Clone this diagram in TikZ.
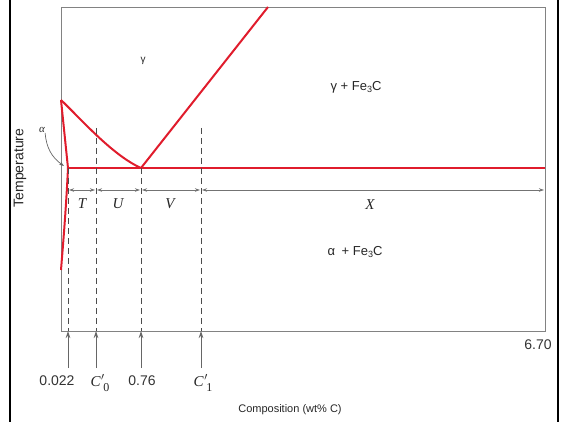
\documentclass[tikz,border=0pt]{standalone}
\usepackage{fontspec}
\setmainfont{Liberation Sans}
\newfontfamily\serifit{Liberation Serif}[ItalicFont={* Italic}]
\usetikzlibrary{arrows.meta}
\definecolor{phred}{RGB}{224,28,44}
\definecolor{frame}{RGB}{130,130,130}
\newcommand{\sub}[1]{\raisebox{-2.5pt}{\fontsize{9}{9}\selectfont #1}}
\newcommand{\cprime}[1]{C\kern0.5pt$'$\kern-1.5pt\raisebox{-5pt}{\fontsize{12}{12}\selectfont\upshape #1}}
\tikzset{
  phase/.style={draw=phred,line width=2pt},
  framebox/.style={draw=frame,line width=0.9pt},
  dashv/.style={draw=black!70,dashed,dash pattern=on 6pt off 4pt,line width=0.8pt},
  dim/.style={draw=black!55,line width=0.7pt,{Stealth[length=5pt,width=3.5pt]}-{Stealth[length=5pt,width=3.5pt]},shorten <=1pt,shorten >=1pt},
  uparrow/.style={draw=black!60,line width=0.8pt,-{Stealth[length=7pt,width=4.5pt]}},
  lab/.style={font=\fontsize{13}{13}\selectfont,text=black!85,inner sep=0pt},
  num/.style={font=\fontsize{14}{14}\selectfont,text=black!80,inner sep=0pt},
  ilab/.style={font=\fontsize{15}{15}\selectfont\serifit\itshape,text=black!85,inner sep=0pt},
}
\begin{document}
\begin{tikzpicture}[x=1pt,y=-1pt]
\useasboundingbox (0,0) rectangle (564,422);
% outer black border lines
\draw[black,line width=2pt] (10,0) -- (10,422);
\draw[black,line width=2pt] (558,0) -- (558,422);
% frame
\draw[framebox] (61,7) rectangle (545,331);
% key points
\coordinate (A) at (61,100);
\coordinate (E) at (141,168);
\coordinate (P) at (68,168);
\coordinate (R) at (545,168);
\coordinate (Top) at (268,7);
\coordinate (S) at (61,270);
% phase boundaries
\draw[phase] (A) .. controls (80,118) and (112,155) .. (E);
\draw[phase] (E) -- (Top);
\draw[phase] (A) -- (P);
\draw[phase] (P) -- (R);
\draw[phase] (P) .. controls (66,210) and (63,245) .. (S);
% dashed verticals
\coordinate (d1t) at (68,168);  \coordinate (d1b) at (68,331);
\coordinate (d2t) at (96,128);  \coordinate (d2b) at (96,331);
\coordinate (d3t) at (141,168); \coordinate (d3b) at (141,331);
\coordinate (d4t) at (201,128); \coordinate (d4b) at (201,331);
\coordinate (xr) at (545,190);
\draw[dashv] (d1t) -- (d1b);
\draw[dashv] (d2t) -- (d2b);
\draw[dashv] (d3t) -- (d3b);
\draw[dashv] (d4t) -- (d4b);
% dimension arrows
\coordinate (m1) at (68,190); \coordinate (m2) at (96,190);
\coordinate (m3) at (141,190); \coordinate (m4) at (201,190);
\draw[dim] (m1) -- (m2);
\draw[dim] (m2) -- (m3);
\draw[dim] (m3) -- (m4);
\draw[dim] (m4) -- (xr);
\node[ilab] (T) at (82,204) {T};
\node[ilab] (U) at (118,204) {U};
\node[ilab] (V) at (170,204) {V};
\node[ilab] (X) at (370,205) {X};
% bottom arrows
\coordinate (b1) at (68,368); \coordinate (b2) at (96,368);
\coordinate (b3) at (141,368); \coordinate (b4) at (201,368);
\draw[uparrow] (b1) -- (d1b);
\draw[uparrow] (b2) -- (d2b);
\draw[uparrow] (b3) -- (d3b);
\draw[uparrow] (b4) -- (d4b);
% bottom labels
\node[num] (l1) at (57,381) {0.022};
\node[ilab] (l2) at (100,383) {\cprime{0}};
\node[num] (l3) at (142,381) {0.76};
\node[ilab] (l4) at (203,383) {\cprime{1}};
\node[num] (l5) at (538,345) {6.70};
\node[lab,font=\fontsize{11}{11}\selectfont] (comp) at (290,410) {Composition (wt\% C)};
\node[lab,font=\fontsize{14}{14}\selectfont,rotate=90] (temp) at (20,168) {Temperature};
% region labels
\node[lab,font=\fontsize{10}{10}\selectfont] (g) at (143,61) {γ};
\node[lab] (gf) at (356,87) {γ + Fe\sub{3}C};
\node[lab] (af) at (355,252) {α\enspace + Fe\sub{3}C};
\node[lab,font=\fontsize{11}{11}\selectfont\serifit\itshape] (al) at (42,130) {α};
\coordinate (alt) at (64,166);
\draw[draw=black!60,line width=0.7pt,-{Stealth[length=5pt,width=3.5pt]}] (al.south east) to[bend right=25] (alt);
\end{tikzpicture}
\end{document}
